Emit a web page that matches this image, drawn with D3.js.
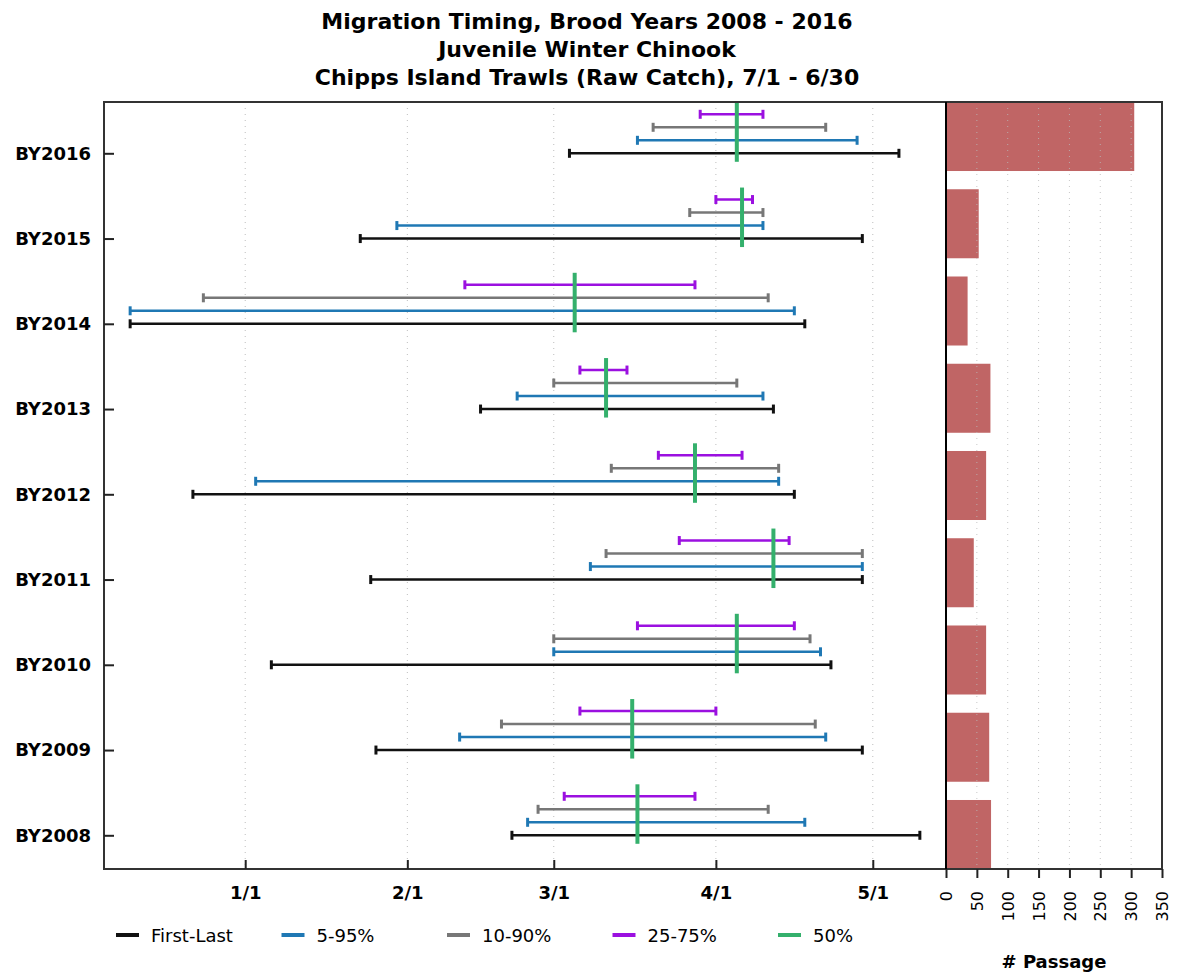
<!DOCTYPE html>
<html><head><meta charset="utf-8">
<script src="https://cdn.jsdelivr.net/npm/d3@7"></script>
<style>
body{margin:0;background:#fff}
svg{display:block}
text{font-family:"DejaVu Sans",Verdana,sans-serif;fill:#000}
</style>
</head><body>
<svg id="chart" width="1177" height="972"></svg>
<script>
// ---------------- data ----------------
const titleLines = ["Migration Timing, Brood Years 2008 - 2016", "Juvenile Winter Chinook", "Chipps Island Trawls (Raw Catch), 7/1 - 6/30"];
const broodYears = ["BY2016","BY2015","BY2014","BY2013","BY2012","BY2011","BY2010","BY2009","BY2008"];
const firstDate = ["3/4","1/23","12/10","2/15","12/22","1/25","1/6","1/26","2/21"];
const lastDate  = ["5/6","4/29","4/18","4/12","4/16","4/29","4/23","4/29","5/10"];
const p5  = ["3/17","1/30","12/10","2/22","1/3","3/8","3/1","2/11","2/24"];
const p95 = ["4/28","4/10","4/16","4/10","4/13","4/29","4/21","4/22","4/18"];
const p10 = ["3/20","3/27","12/24","3/1","3/12","3/11","3/1","2/19","2/26"];
const p90 = ["4/22","4/10","4/11","4/5","4/13","4/29","4/19","4/20","4/11"];
const p25 = ["3/29","4/1","2/12","3/6","3/21","3/25","3/17","3/6","3/3"];
const p75 = ["4/10","4/8","3/28","3/15","4/6","4/15","4/16","4/1","3/28"];
const p50 = ["4/5","4/6","3/5","3/11","3/28","4/12","4/5","3/16","3/17"];
const passage = [305,53,35,72,65,45,65,70,73];
const dateDomain = ["12/5","5/15"];
const dateTickLabels = ["1/1","2/1","3/1","4/1","5/1"];
const passageTicks = [0,50,100,150,200,250,300,350];
const legendLabels = ["First-Last","5-95%","10-90%","25-75%","50%"];
const seriesColors = ["#111111","#1f78b4","#777777","#9b10e0","#34b06c"];

// season date: 7/1 .. 6/30 (non-leap reference season)
function toDate(md){
  const [m,d] = md.split("/").map(Number);
  return new Date(Date.UTC(m >= 7 ? 2017 : 2018, m-1, d));
}

const svg = d3.select("#chart");
const L = {x0:104, x1:946, y0:102, y1:869, bx1:1162};

const x = d3.scaleUtc().domain(dateDomain.map(toDate)).range([L.x0, L.x1]);
const y = d3.scalePoint().domain(broodYears).range([153.3, 835.3]);
const yb = d3.scaleBand().domain(broodYears).range([L.y0, L.y1]).paddingInner(0.209).paddingOuter(0);
const xb = d3.scaleLinear().domain([0,350]).range([L.x1, L.bx1]);

// title
svg.append("g").selectAll("text").data(titleLines).join("text")
  .attr("x", 587).attr("y", (d,i) => 28.5 + i*28.2)
  .attr("text-anchor","middle").attr("font-size", 22).attr("font-weight","bold")
  .text(d => d);

// grid left
svg.append("g").selectAll("line").data(dateTickLabels.map(toDate)).join("line")
  .attr("x1", d => x(d)).attr("x2", d => x(d)).attr("y1", L.y0).attr("y2", L.y1)
  .attr("stroke","#bdbdbd").attr("stroke-width",1).attr("stroke-dasharray","1,5");

// bars right
svg.append("g").selectAll("rect").data(broodYears).join("rect")
  .attr("x", xb(0)).attr("y", d => yb(d))
  .attr("width", (d,i) => xb(passage[i]) - xb(0)).attr("height", yb.bandwidth())
  .attr("fill","#c06565");

// grid right
svg.append("g").selectAll("line").data(passageTicks.filter(v => v>0 && v<350)).join("line")
  .attr("x1", d => xb(d)).attr("x2", d => xb(d)).attr("y1", L.y0).attr("y2", L.y1)
  .attr("stroke","#bbbbbb").attr("stroke-width",1).attr("stroke-dasharray","1,5").attr("opacity",0.8);

// error bars
const ranges = [
  {lo:firstDate, hi:lastDate, off:0},
  {lo:p5, hi:p95, off:-13},
  {lo:p10, hi:p90, off:-26},
  {lo:p25, hi:p75, off:-39}
];
ranges.forEach((r, k) => {
  const g = svg.append("g").attr("stroke", seriesColors[k]);
  broodYears.forEach((by, i) => {
    const yy = y(by) + r.off;
    const xa = x(toDate(r.lo[i])), xz = x(toDate(r.hi[i]));
    g.append("line").attr("x1", xa).attr("x2", xz).attr("y1", yy).attr("y2", yy).attr("stroke-width", 2.6);
    [xa, xz].forEach(xc => g.append("line").attr("x1", xc).attr("x2", xc)
      .attr("y1", yy-4.5).attr("y2", yy+4.5).attr("stroke-width", 3));
  });
});
svg.append("g").selectAll("line").data(broodYears).join("line")
  .attr("x1", (d,i) => x(toDate(p50[i]))).attr("x2", (d,i) => x(toDate(p50[i])))
  .attr("y1", d => y(d) - 51).attr("y2", d => y(d) + 8.5)
  .attr("stroke", seriesColors[4]).attr("stroke-width", 4);

// frames
svg.append("rect").attr("x", L.x0).attr("y", L.y0).attr("width", L.x1-L.x0).attr("height", L.y1-L.y0)
  .attr("fill","none").attr("stroke","#333").attr("stroke-width",2);
svg.append("rect").attr("x", L.x1).attr("y", L.y0).attr("width", L.bx1-L.x1).attr("height", L.y1-L.y0)
  .attr("fill","none").attr("stroke","#333").attr("stroke-width",2);
svg.append("line").attr("x1",L.x1).attr("x2",L.x1).attr("y1",L.y0).attr("y2",L.y1).attr("stroke","#000").attr("stroke-width",2);

// axes
const ax = svg.append("g").attr("transform",`translate(${L.x0},0)`)
  .call(d3.axisLeft(y).tickSizeInner(-10).tickSizeOuter(0).tickPadding(13));
ax.select(".domain").remove();
ax.selectAll("line").attr("stroke","#222").attr("stroke-width",2);
ax.selectAll("text").attr("font-size",18).attr("font-weight","bold").attr("font-family","DejaVu Sans");

const bx = svg.append("g").attr("transform",`translate(0,${L.y1})`)
  .call(d3.axisBottom(x).tickValues(dateTickLabels.map(toDate))
    .tickFormat((d,i) => dateTickLabels[i]).tickSizeInner(-9).tickSizeOuter(0).tickPadding(17));
bx.select(".domain").remove();
bx.selectAll("line").attr("stroke","#222").attr("stroke-width",2);
bx.selectAll("text").attr("font-size",18).attr("font-weight","bold").attr("font-family","DejaVu Sans");

const rx = svg.append("g").attr("transform",`translate(0,${L.y1})`)
  .call(d3.axisBottom(xb).tickValues(passageTicks).tickSizeInner(9).tickSizeOuter(0));
rx.select(".domain").remove();
rx.selectAll("line").attr("stroke","#222").attr("stroke-width",2);
rx.selectAll("text").attr("font-size",16).attr("font-family","DejaVu Sans")
  .attr("text-anchor","end").attr("transform","rotate(-90)")
  .attr("x",-22).attr("y",0).attr("dy","0.35em");

svg.append("text").attr("x",(L.x1+L.bx1)/2).attr("y",968).attr("text-anchor","middle")
  .attr("font-size",18).attr("font-weight","bold").text("# Passage");

// legend
const lg = svg.append("g").selectAll("g").data(legendLabels).join("g")
  .attr("transform",(d,i) => `translate(${116 + i*165.5},935)`);
lg.append("line").attr("x1",0).attr("x2",23).attr("y1",0).attr("y2",0)
  .attr("stroke",(d,i) => seriesColors[i]).attr("stroke-width",4);
lg.append("text").attr("x",35).attr("y",6.5).attr("font-size",18).text(d => d);
</script>
</body></html>
